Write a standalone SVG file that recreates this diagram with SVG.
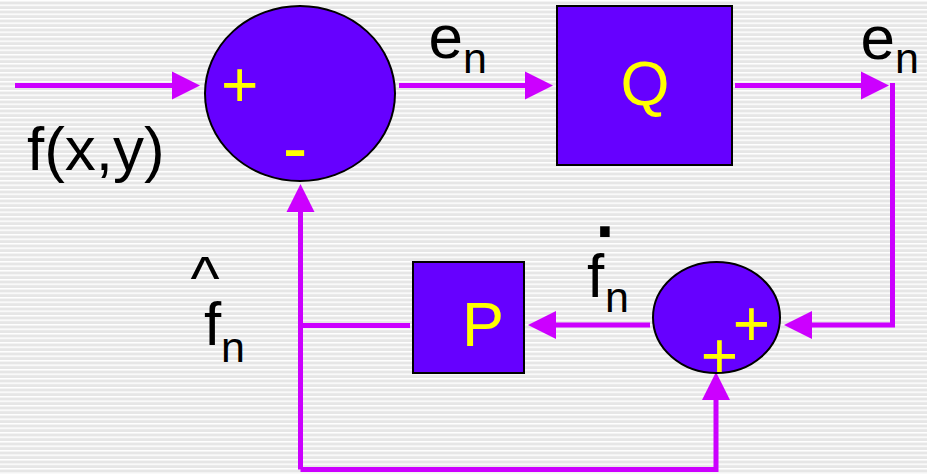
<svg xmlns="http://www.w3.org/2000/svg" width="927" height="474" viewBox="0 0 927 474">
<defs>
<pattern id="stripes" x="0" y="0" width="10" height="4.5" patternUnits="userSpaceOnUse">
<rect x="0" y="0" width="10" height="4.5" fill="#E6E6E6"/>
<rect x="0" y="0" width="10" height="1.5" fill="#FFFFFF"/>
</pattern>
<marker id="arrow" viewBox="0 -14 28 28" refX="0" refY="0" markerWidth="28" markerHeight="28" markerUnits="userSpaceOnUse" orient="auto" overflow="visible">
<path d="M0,-14 L28,0 L0,14 Z" fill="#CC00FF"/>
</marker>
</defs>
<style>
.wire{fill:none;stroke:#CC00FF;stroke-width:5;stroke-linejoin:miter;stroke-linecap:butt}
.blk{fill:#6600FF;stroke:#000;stroke-width:2}
.lbl{font-family:"Liberation Sans",Arial,sans-serif;fill:#000}
.sym{font-family:"Liberation Sans",Arial,sans-serif;fill:#FFFF00}
</style>
<rect x="0" y="0" width="927" height="474" fill="url(#stripes)"/>

<g id="connectors">
<path class="wire" d="M15,85.5 H172" marker-end="url(#arrow)"/>
<path class="wire" d="M399,85.5 H525" marker-end="url(#arrow)"/>
<path class="wire" d="M735,85.5 H861" marker-end="url(#arrow)"/>
<path class="wire" d="M892.5,83 V325 H812" marker-end="url(#arrow)"/>
<path class="wire" d="M650,325 H556" marker-end="url(#arrow)"/>
<path class="wire" d="M410,325.5 H300.5"/>
<path class="wire" d="M300.5,469.5 V212" marker-end="url(#arrow)"/>
<path class="wire" d="M300.5,469.5 H716 V400" marker-end="url(#arrow)"/>
</g>

<g id="sum1">
<ellipse class="blk" cx="300" cy="93.5" rx="95" ry="87.5"/>
<text class="sym" x="221" y="106.5" font-size="64">+</text>
<text class="sym" x="282.7" y="172.5" font-size="74">-</text>
</g>

<g id="Q">
<rect class="blk" x="557" y="6" width="175" height="159"/>
<text class="sym" x="620.5" y="105" font-size="63">Q</text>
</g>

<g id="sum2">
<ellipse class="blk" cx="716.5" cy="317.5" rx="63.5" ry="55.5"/>
<text class="sym" x="732.8" y="346" font-size="64">+</text>
<text class="sym" x="700.8" y="378" font-size="64">+</text>
</g>

<g id="P">
<rect class="blk" x="413" y="262" width="111" height="111"/>
<text class="sym" x="462" y="346" font-size="63">P</text>
</g>

<g id="labels">
<text class="lbl" x="27" y="170" font-size="62">f(x,y)</text>
<text class="lbl" font-size="62"><tspan x="428.5" y="58">e</tspan><tspan x="463" y="73" font-size="43">n</tspan></text>
<text class="lbl" font-size="62"><tspan x="860.5" y="59">e</tspan><tspan x="895" y="73" font-size="43">n</tspan></text>
<text class="lbl" font-size="62"><tspan x="190.5" y="299">^</tspan><tspan x="204" y="345">f</tspan><tspan x="221" y="362" font-size="43">n</tspan></text>
<text class="lbl" font-size="62"><tspan x="591" y="237" font-size="100">.</tspan><tspan x="587" y="297">f</tspan><tspan x="605" y="312" font-size="43">n</tspan></text>
</g>
</svg>
